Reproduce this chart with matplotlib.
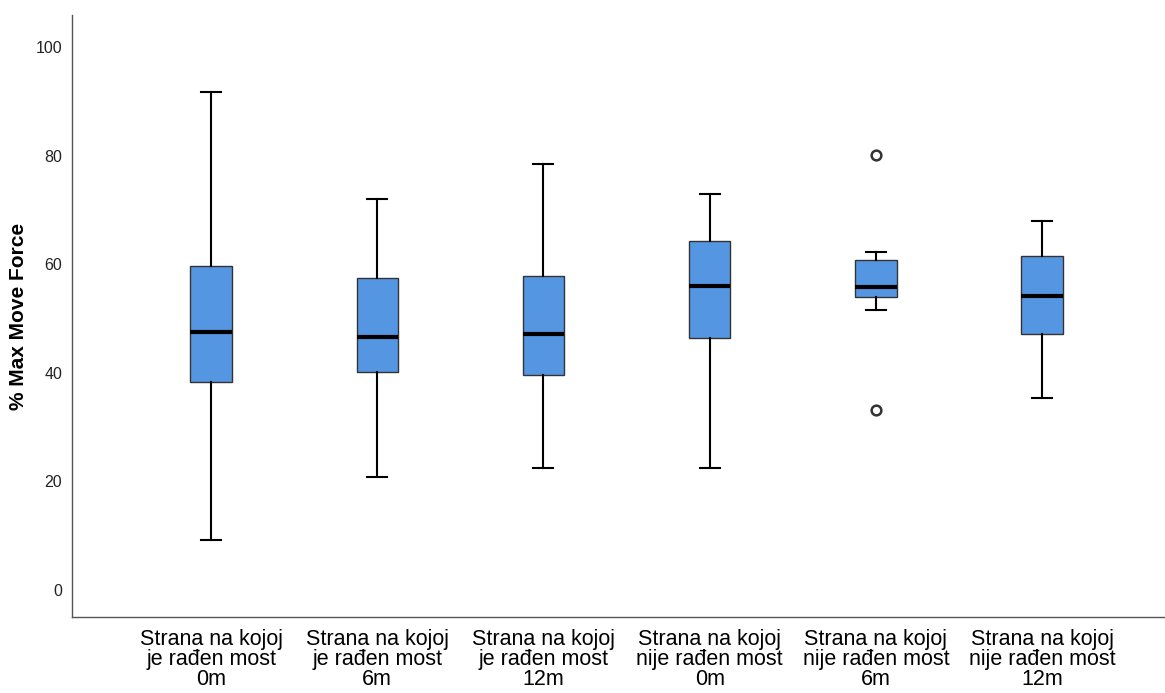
import matplotlib
matplotlib.use("Agg")
import matplotlib.pyplot as plt

plt.rcParams['font.family'] = ['Liberation Sans', 'DejaVu Sans']

# ===== data =====
categories = [
    "Strana na kojoj\nje rađen most\n0m",
    "Strana na kojoj\nje rađen most\n6m",
    "Strana na kojoj\nje rađen most\n12m",
    "Strana na kojoj\nnije rađen most\n0m",
    "Strana na kojoj\nnije rađen most\n6m",
    "Strana na kojoj\nnije rađen most\n12m",
]
whisker_low = [9.2, 20.8, 22.5, 22.5, 51.6, 35.4]
q1 = [38.3, 40.1, 39.6, 46.4, 54.0, 47.1]
median = [47.5, 46.6, 47.1, 56.0, 55.8, 54.1]
q3 = [59.7, 57.5, 57.8, 64.3, 60.8, 61.5]
whisker_high = [91.7, 72.0, 78.5, 72.9, 62.2, 68.0]
outliers = [[], [], [], [], [80.1, 33.1], []]

stats = []
for i, lab in enumerate(categories):
    stats.append({
        "label": lab, "whislo": whisker_low[i], "q1": q1[i], "med": median[i],
        "q3": q3[i], "whishi": whisker_high[i], "fliers": outliers[i],
    })

fig = plt.figure(figsize=(11.65, 6.93), dpi=100)
ax = fig.add_axes([72 / 1165, 76 / 693, 1 - 72 / 1165, (617 - 15) / 693])

ax.bxp(
    stats, positions=range(len(categories)), widths=0.25, patch_artist=True,
    boxprops=dict(facecolor="#5596e3", edgecolor="#333333", linewidth=1.0),
    medianprops=dict(color="black", linewidth=3),
    whiskerprops=dict(color="black", linewidth=1.5),
    capprops=dict(color="black", linewidth=1.5),
    flierprops=dict(marker="o", markersize=7, markerfacecolor="white",
                    markeredgecolor="#333333", markeredgewidth=1.8),
    capwidths=0.12,
)

ax.set_xlim(-0.837, 5.74)
ax.set_ylim(-5, 105.9)
ax.set_yticks([0, 20, 40, 60, 80, 100])

for s in ("top", "right"):
    ax.spines[s].set_visible(False)
for s in ("left", "bottom"):
    ax.spines[s].set_color("#555555")
    ax.spines[s].set_linewidth(1.0)

ax.tick_params(axis="both", length=0)
ax.tick_params(axis="y", labelsize=11.5, pad=7, colors="#222222")
ax.tick_params(axis="x", labelsize=15.5, pad=9)
for t in ax.get_xticklabels():
    t.set_linespacing(0.93)

ax.set_ylabel("% Max Move Force", fontsize=15, fontweight="bold")
ax.yaxis.set_label_coords(-0.040, 0.5)

fig.savefig("out.png", dpi=100)
